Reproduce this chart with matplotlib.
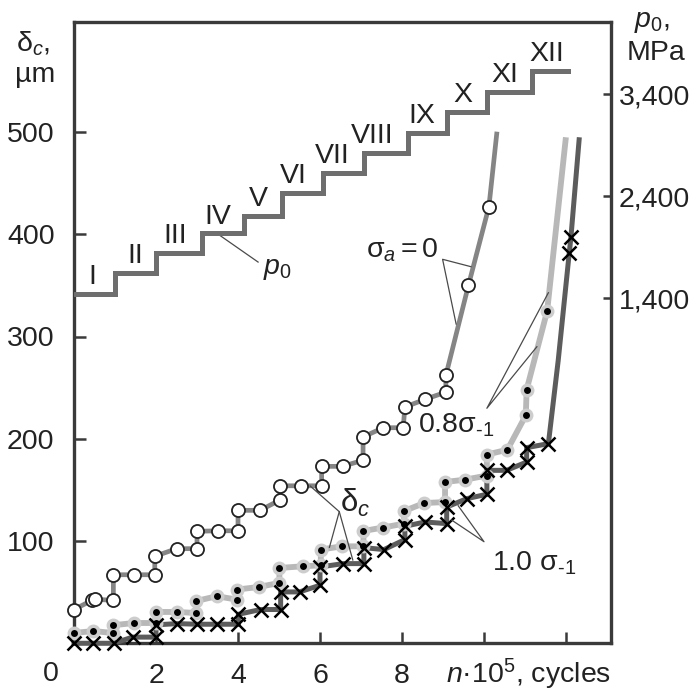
import matplotlib
matplotlib.use('Agg')
import matplotlib.pyplot as plt

plt.rcParams['font.family'] = ['Liberation Sans', 'DejaVu Sans']
plt.rcParams['mathtext.fontset'] = 'custom'
plt.rcParams['mathtext.rm'] = 'Liberation Sans'
plt.rcParams['mathtext.it'] = 'Liberation Sans:italic'
plt.rcParams['mathtext.bf'] = 'Liberation Sans:bold'

# ---------------- data ----------------
stage_labels = ['I', 'II', 'III', 'IV', 'V', 'VI', 'VII', 'VIII', 'IX', 'X', 'XI', 'XII']
stage_edges = [0.0, 1.0, 1.99, 3.11, 4.15, 5.08, 6.08, 7.08, 8.15, 9.1, 10.07, 11.18, 12.06]
stage_p0 = [1440, 1645, 1840, 2035, 2205, 2430, 2625, 2820, 3020, 3225, 3420, 3625]
stage_label_n = [0.44, 1.49, 2.46, 3.5, 4.49, 5.34, 6.29, 7.27, 8.49, 9.49, 10.5, 11.54]

# sigma_a = 0 (open circles)
s0_n = [0.0, 0.44, 0.5, 0.96, 0.96, 1.47, 1.97, 1.97, 2.5, 3.0, 3.0, 3.52, 4.0, 4.0, 4.54,
        5.02, 5.02, 5.53, 6.04, 6.04, 6.55, 7.05, 7.05, 7.54, 8.03, 8.07, 8.56, 9.07, 9.07,
        9.62, 10.12]
s0_d = [33, 42, 43, 42, 67, 67, 67, 85, 92.5, 92.5, 109.5, 110, 110, 130, 130,
        140, 154, 154, 154, 173, 173, 179, 201.7, 210.8, 210.8, 231, 238.5, 245.6, 262,
        350, 427]
s0_tail_n = [10.31]
s0_tail_d = [498]

# 0.8 sigma_-1 (black dots)
s1_n = [0.0, 0.47, 0.95, 0.95, 1.46, 2.0, 2.0, 2.5, 2.98, 2.98, 3.48, 3.97, 3.97, 4.5,
        5.01, 5.01, 5.58, 6.02, 6.02, 6.53, 7.06, 7.06, 7.53, 8.05, 8.05, 8.54, 9.05, 9.05,
        9.54, 10.07, 10.07, 10.57, 11.02, 11.04, 11.54]
s1_d = [10, 12, 10, 17.6, 19.8, 19.8, 30.6, 30.6, 29.6, 41.3, 46, 42.7, 52.5, 55,
        59, 73.6, 75.3, 76.2, 91.6, 94.8, 94.8, 109.8, 113.1, 117, 129.3, 137.1, 138.1, 157.7,
        160, 164, 184.5, 189.3, 222.9, 248, 324.8]
s1_tail_n = [11.99]
s1_tail_d = [492]

# 1.0 sigma_-1 (crosses)
s2_n = [0.0, 0.47, 0.97, 1.43, 2.0, 2.0, 2.52, 3.0, 3.49, 4.01, 4.01, 4.55, 5.04, 5.04,
        5.5, 6.0, 6.0, 6.57, 7.07, 7.07, 7.56, 8.07, 8.07, 8.56, 9.09, 9.09, 9.58, 10.07,
        10.07, 10.55, 11.04, 11.04, 11.57]
s2_d = [0, 0, 0, 6, 6, 18, 19.2, 18.6, 18.6, 18.6, 28.3, 33, 33, 50.2,
        50.2, 56.7, 74.6, 77.9, 77.9, 93.5, 91.6, 101.4, 114.4, 118.6, 117, 133.2, 141.4, 145.7,
        169.1, 169.1, 177.2, 191.3, 195.2]
s2_tail_n = [11.81, 12.08, 12.12, 12.32]
s2_tail_d = [276.6, 382, 397, 492.4]
s2_tail_marked = [False, True, True, False]

p0_ticks = [1400, 2400, 3400]
p0_ticklabels = ['1,400', '2,400', '3,400']
d_ticks = [100, 200, 300, 400, 500]
n_ticks = [2, 4, 6, 8, 10, 12]
n_ticklabels = ['2', '4', '6', '8', '', '']

# ---------------- figure ----------------
W, H = 696, 691
fig = plt.figure(figsize=(W / 100, H / 100), dpi=100)
L, R, T, B = 74, 611, 22, 643.25
ax = fig.add_axes([L / W, 1 - B / H, (R - L) / W, (B - T) / H])
ax.set_xlim(0, (R - L) / 41.0)
ax.set_ylim(0, (B - T) / 1.0225)

spine_c = '#3a3a3a'
txt_c = '#222222'
FS = 20.5

for s in ['left', 'right', 'top', 'bottom']:
    ax.spines[s].set_linewidth(2.4)
    ax.spines[s].set_color(spine_c)

ax.set_xticks(n_ticks)
ax.set_xticklabels(n_ticklabels)
ax.set_yticks(d_ticks)
ax.tick_params(axis='both', direction='in', colors=spine_c, labelcolor=txt_c,
               labelsize=FS, width=1.8)
ax.tick_params(axis='x', length=8, pad=14)
ax.tick_params(axis='y', length=8.5, pad=14)

ax2 = ax.twinx()
ax2.set_ylim(1400 - (B - 298) / 0.102, 1400 + (298 - T) / 0.102)
ax2.set_yticks(p0_ticks)
ax2.set_yticklabels(p0_ticklabels)
ax2.tick_params(axis='y', direction='in', colors=spine_c, labelcolor=txt_c,
                labelsize=FS, width=1.8, length=6, pad=5.5)
for s in ['left', 'right', 'top', 'bottom']:
    ax2.spines[s].set_visible(False)

# staircase p0
ax2.plot(stage_edges, stage_p0 + [stage_p0[-1]], drawstyle='steps-post',
         color='#6e6e6e', lw=3.6, solid_joinstyle='miter', zorder=3)
for lab, xn, lev in zip(stage_labels, stage_label_n, stage_p0):
    ax2.annotate(lab, (xn, lev), xytext=(0, 12), textcoords='offset points',
                 ha='center', va='center', fontsize=FS, color=txt_c)

# series lines
ax.plot(s1_n + s1_tail_n, s1_d + s1_tail_d, color='#b8b8b8', lw=4.2,
        solid_joinstyle='round', zorder=3, clip_on=False)
ax.plot(s0_n + s0_tail_n, s0_d + s0_tail_d, color='#858585', lw=3.4,
        solid_joinstyle='round', zorder=3, clip_on=False)
ax.plot(s2_n + s2_tail_n, s2_d + s2_tail_d, color='#5c5c5c', lw=3.6,
        solid_joinstyle='round', zorder=4, clip_on=False)

# markers
ax.plot(s1_n, s1_d, 'o', color='#cdcdcd', ms=10, mew=0, zorder=5, clip_on=False)
ax.plot(s1_n, s1_d, 'o', color='black', ms=5, mew=0, zorder=6, clip_on=False)
ax.plot(s0_n, s0_d, 'o', mfc='white', mec='#222222', ms=9.4, mew=1.3, zorder=6,
        clip_on=False)
x2n = s2_n + [n for n, m in zip(s2_tail_n, s2_tail_marked) if m]
x2d = s2_d + [d for d, m in zip(s2_tail_d, s2_tail_marked) if m]
ax.plot(x2n, x2d, 'x', color='black', ms=9.5, mew=1.8, zorder=7, clip_on=False)

# annotations
lc = '#4a4a4a'
ax.plot([9.68, 8.99, 9.32], [368.3, 375.5, 312.2], color=lc, lw=0.9, zorder=8)
ax.plot([11.57, 10.07, 11.29], [342.8, 229.8, 290.0], color=lc, lw=0.9, zorder=8)
ax.plot([9.37, 10.0, 9.21], [134.5, 99.3, 120.5], color=lc, lw=0.9, zorder=8)
ax.plot([5.76, 6.47, 6.23], [153.8, 128.7, 93.8], color=lc, lw=0.9, zorder=8)
ax.plot([6.47, 6.80], [128.7, 81.4], color=lc, lw=0.9, zorder=8)
ax.plot([3.51, 4.49], [400.2, 372.8], color=lc, lw=0.9, zorder=8)

ax.text(8.0, 384.6, r'$\mathrm{σ}_a = 0$', fontsize=FS, color=txt_c,
        ha='center', va='center')
ax.text(8.39, 206.4, r'$\mathrm{0.8σ}_{\text{-1}}$', fontsize=FS, color=txt_c,
        ha='left', va='baseline')
ax.text(10.2, 71.0, r'$\mathrm{1.0\ σ}_{\text{-1}}$', fontsize=FS, color=txt_c,
        ha='left', va='baseline')
ax.text(6.49, 128.4, r'$\mathrm{δ}_c$', fontsize=FS + 2, color=txt_c,
        ha='left', va='baseline', zorder=9)
ax.text(4.61, 361.0, r'$p_{\mathrm{0}}$', fontsize=FS, color=txt_c,
        ha='left', va='baseline')

def ftext(px, py, s, **kw):
    fig.text(px / W, 1 - py / H, s, fontsize=FS, color=txt_c, **kw)

ftext(16, 52, r'$\mathrm{δ}_c$,', ha='left', va='baseline')
ftext(15, 82, 'µm', ha='left', va='baseline')
ftext(634, 27, r'$p_{\mathrm{0}}$,', ha='left', va='baseline')
ftext(627, 60, 'MPa', ha='left', va='baseline')
ftext(51, 674, '0', ha='center', va='center')
ftext(446, 683, r'$n$·10$^{5}$, cycles', ha='left', va='baseline')

fig.savefig('out.png', dpi=100)
